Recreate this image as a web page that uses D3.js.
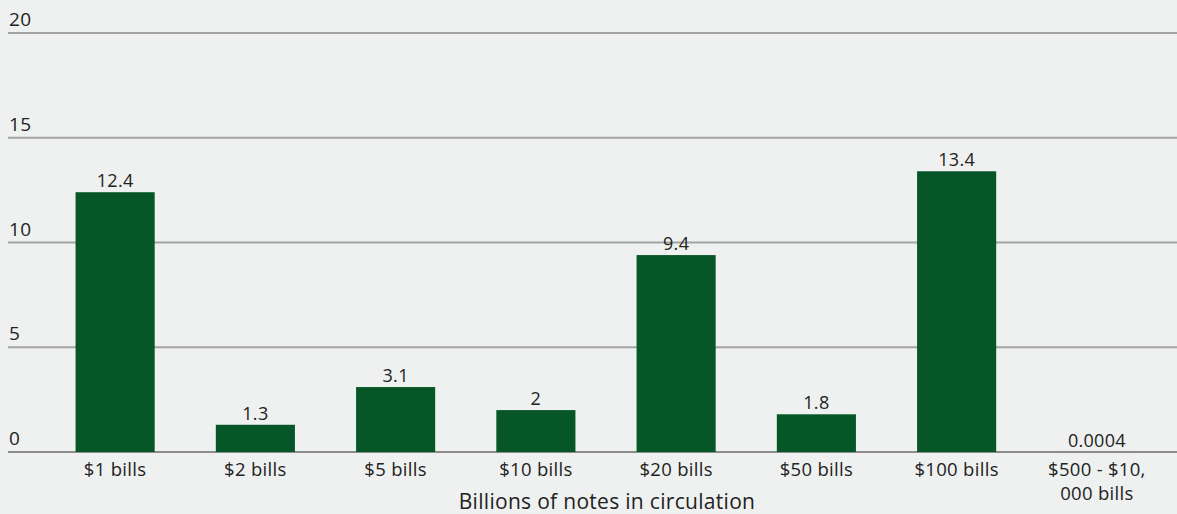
<!DOCTYPE html>
<html>
<head>
<meta charset="utf-8">
<script src="https://cdn.jsdelivr.net/npm/d3@7"></script>
<style>
  html, body { margin: 0; padding: 0; background: #eff1f0; }
  svg { display: block; }
  text { font-family: "Open Sans", "Noto Sans", sans-serif; fill: #222; letter-spacing: 0.3px; }
</style>
</head>
<body>
<svg id="chart" width="1177" height="514"></svg>
<script>
const categories = ["$1 bills", "$2 bills", "$5 bills", "$10 bills", "$20 bills", "$50 bills", "$100 bills", "$500 - $10,|000 bills"];
const values = [12.4, 1.3, 3.1, 2, 9.4, 1.8, 13.4, 0.0004];
const valueLabels = ["12.4", "1.3", "3.1", "2", "9.4", "1.8", "13.4", "0.0004"];
const yTicks = [0, 5, 10, 15, 20];
const axisTitle = "Billions of notes in circulation";

const W = 1177, H = 514;
const svg = d3.select("#chart");

const x = d3.scaleBand().domain(categories).range([45, 1167]).paddingInner(0.436).paddingOuter(0.218);
const y = d3.scaleLinear().domain([0, 20]).range([452, 33]);

// gridlines
const grid = svg.append("g");
grid.selectAll("line").data(yTicks).join("line")
  .attr("x1", 8).attr("x2", W)
  .attr("y1", d => y(d)).attr("y2", d => y(d))
  .attr("stroke", d => d === 0 ? "#8c8c8c" : "#a3a3a3")
  .attr("stroke-width", 2);
grid.selectAll("text").data(yTicks).join("text")
  .attr("x", 9).attr("y", d => y(d) - 7)
  .attr("font-size", 19)
  .text(d => d);

// bars
svg.append("g").selectAll("rect").data(values).join("rect")
  .attr("x", (d, i) => x(categories[i]))
  .attr("width", x.bandwidth())
  .attr("y", d => y(d))
  .attr("height", d => y(0) - y(d))
  .attr("fill", "#065628");

// value labels
svg.append("g").selectAll("text").data(values).join("text")
  .attr("x", (d, i) => x(categories[i]) + x.bandwidth() / 2)
  .attr("y", d => y(d) - 5)
  .attr("text-anchor", "middle")
  .attr("font-size", 18)
  .text((d, i) => valueLabels[i]);

// category labels (each line its own text element)
const catLines = [];
categories.forEach(c => c.split("|").forEach((p, k) => catLines.push({ c, p, k })));
svg.append("g").selectAll("text").data(catLines).join("text")
  .attr("x", d => x(d.c) + x.bandwidth() / 2)
  .attr("y", d => 476 + d.k * 24)
  .attr("text-anchor", "middle")
  .attr("font-size", 18.5)
  .text(d => d.p);

// axis title
svg.append("text")
  .attr("x", 607).attr("y", 509)
  .attr("text-anchor", "middle")
  .attr("font-size", 21)
  .text(axisTitle);
</script>
</body>
</html>
